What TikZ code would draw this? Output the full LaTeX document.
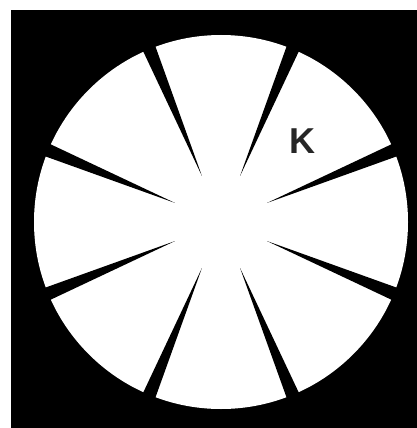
\documentclass[tikz,border=0pt]{standalone}
\usepackage{fontspec}
\setmainfont{Liberation Sans}
\usetikzlibrary{calc}
\begin{document}
\begin{tikzpicture}[x=1pt,y=-1pt,
  slit/.style={fill=black},
  label/.style={font=\fontsize{36}{36}\selectfont\bfseries, inner sep=0pt, text=black!85}]
\useasboundingbox (0,0) rectangle (417,428);
\fill[white] (0,0) rectangle (417,428);
\fill[black] (11,10) rectangle (417,428);
\coordinate (c) at (221,222);
\fill[white] (c) circle[radius=187];
\foreach \a in {22.5,67.5,...,337.5}{
  \fill[slit] ($(c)+(-\a:50)$) -- ($(c)+(-\a:200)+(-\a+90:7.2)$) -- ($(c)+(-\a:200)+(-\a-90:7.2)$) -- cycle;
}
\node[label] (k) at (302,141) {K};
\end{tikzpicture}
\end{document}
